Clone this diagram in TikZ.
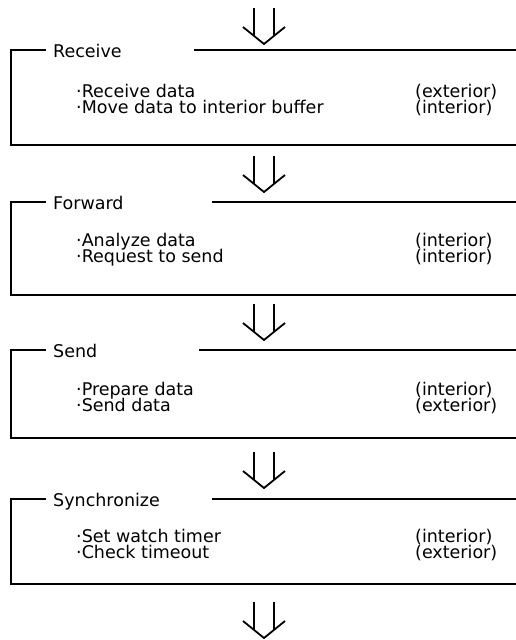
\documentclass[tikz,border=0pt]{standalone}
\usepackage{fontspec}
\setmainfont{DejaVu Sans}
\begin{document}
\begin{tikzpicture}[x=1pt,y=-1pt,
  frame/.style={line width=2.2pt, line cap=rect},
  heading/.style={anchor=base west, inner sep=0pt, font=\fontsize{17.5}{17.5}\selectfont},
  item/.style={anchor=base west, inner sep=0pt, text height=11pt, text depth=3pt,
    font=\fontsize{17.5}{17.5}\selectfont},
  flow/.style={line width=1.8pt},
  dblarrow/.pic={
    \draw[flow] (-10,0) -- (-10,28);
    \draw[flow] (10,0) -- (10,28);
    \draw[flow, line join=miter] (-21,19) -- (0,36) -- (21,19);
  }]
\useasboundingbox (0,0) rectangle (515,640);

% ---- flow arrows between the stages
\pic at (264,8) {dblarrow};
\pic at (264,156) {dblarrow};
\pic at (264,304) {dblarrow};
\pic at (264,452) {dblarrow};
\pic at (264,602) {dblarrow};

% ---- Receive
\node[heading] (t1) at (53,57) {Receive};
\draw[frame] (45,50) -- (11,50) -- (11,145) -- (515,145);
\draw[frame] (195,50) -- (515,50);
\node[item] (a1) at (76,97) {·Receive data};
\node[item] (a2) at (76,113) {·Move data to interior buffer};
\node[item] (a1r) at (415,97) {(exterior)};
\node[item] (a2r) at (415,113) {(interior)};

% ---- Forward
\node[heading] (t2) at (53,209) {Forward};
\draw[frame] (45,202) -- (11,202) -- (11,295) -- (515,295);
\draw[frame] (213,202) -- (515,202);
\node[item] (b1) at (76,246) {·Analyze data};
\node[item] (b2) at (76,262) {·Request to send};
\node[item] (b1r) at (415,246) {(interior)};
\node[item] (b2r) at (415,262) {(interior)};

% ---- Send
\node[heading] (t3) at (53,357) {Send};
\draw[frame] (45,350) -- (11,350) -- (11,438) -- (515,438);
\draw[frame] (200,350) -- (515,350);
\node[item] (c1) at (76,395) {·Prepare data};
\node[item] (c2) at (76,411) {·Send data};
\node[item] (c1r) at (415,395) {(interior)};
\node[item] (c2r) at (415,411) {(exterior)};

% ---- Synchronize
\node[heading] (t4) at (53,506) {Synchronize};
\draw[frame] (45,499) -- (11,499) -- (11,584) -- (515,584);
\draw[frame] (213,499) -- (515,499);
\node[item] (d1) at (76,542) {·Set watch timer};
\node[item] (d2) at (76,558) {·Check timeout};
\node[item] (d1r) at (415,542) {(interior)};
\node[item] (d2r) at (415,558) {(exterior)};
\end{tikzpicture}
\end{document}
